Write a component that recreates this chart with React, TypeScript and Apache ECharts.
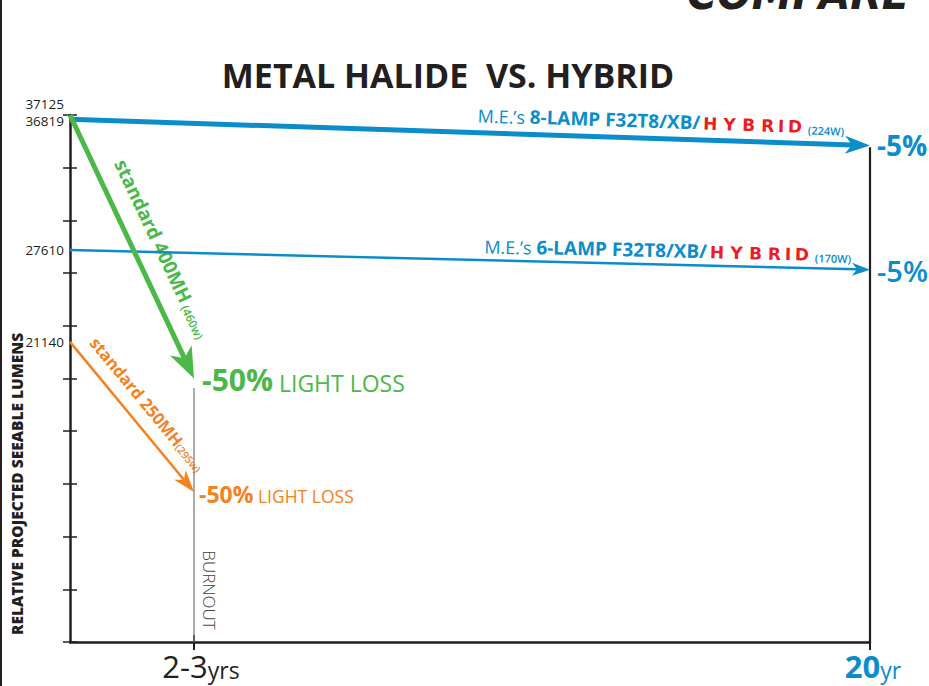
import React, { useEffect, useRef } from "react";
import * as echarts from "echarts";

// ---------------- data ----------------
const yMax = 37125;
const yInterval = 3712.5;
const xMax = 20;
const burnoutYears = 3.1;
const yTickLabels = [21140, 27610, 36819, 37125];
const xTickValues = [burnoutYears, xMax];
const xTickLabels = ["2-3yrs", "20yr"];

// [x0, y0, x1, y1]
const mh400 = [0, 37125, burnoutYears, 18562];
const mh250 = [0, 21140, burnoutYears, 10570];
const lamp8 = [0, 36819, xMax, 34978];
const lamp6 = [0, 27610, xMax, 26230];
const burnoutLine = [[burnoutYears, 0], [burnoutYears, 17900]];
const endLine = [[xMax, 0], [xMax, 34850]];

// ---------------- styles ----------------
const FONT = "'Open Sans', 'Noto Sans', 'DejaVu Sans', sans-serif";
const BLACK = "#231f20";
const BLUE = "#0b8ccb";
const GREEN = "#4bb848";
const ORANGE = "#f48221";
const RED = "#ec1c24";
const GRAY = "#808080";

function arrowSeries(name: string, values: number[], color: string, width: number, headW: number, headL: number) {
  return {
    type: "custom",
    name,
    xAxisIndex: 0,
    yAxisIndex: 0,
    silent: true,
    z: 5,
    data: [values],
    encode: { x: [0, 2], y: [1, 3] },
    renderItem: (_params: any, api: any) => {
      const p0 = api.coord([api.value(0), api.value(1)]);
      const p1 = api.coord([api.value(2), api.value(3)]);
      const dx = p1[0] - p0[0];
      const dy = p1[1] - p0[1];
      const L = Math.hypot(dx, dy);
      const ux = dx / L;
      const uy = dy / L;
      const nx = -uy;
      const ny = ux;
      const bx = p1[0] - ux * headL;
      const by = p1[1] - uy * headL;
      const mx = p1[0] - ux * headL * 0.72;
      const my = p1[1] - uy * headL * 0.72;
      return {
        type: "group",
        children: [
          { type: "line", shape: { x1: p0[0], y1: p0[1], x2: mx, y2: my }, style: { stroke: color, lineWidth: width } },
          {
            type: "polygon",
            shape: {
              points: [
                [p1[0], p1[1]],
                [bx + (nx * headW) / 2, by + (ny * headW) / 2],
                [mx, my],
                [bx - (nx * headW) / 2, by - (ny * headW) / 2],
              ],
            },
            style: { fill: color },
          },
        ],
      };
    },
  };
}

const HY = { fontFamily: "'DejaVu Sans', sans-serif", fontWeight: "bold", fontSize: 17, fill: RED, align: "center", verticalAlign: "bottom" };
const hybridRich = {
  h: { ...HY, width: 20 },
  hy: { ...HY, width: 19 },
  hi: { ...HY, width: 8 },
};
const hybridText = "{h|H}{hy|Y}{hy|B}{hy|R}{hi|I}{h|D}";

function lampLabel(count: string, watts: string) {
  return `{me|M.E.’s }{b|${count}-LAMP F32T8/XB/}${hybridText}{s| (${watts})}`;
}
const lampRich = {
  me: { fontFamily: FONT, fontSize: 18, fill: BLUE, verticalAlign: "bottom" },
  b: { fontFamily: FONT, fontSize: 19, fontWeight: "bold", fill: BLUE, verticalAlign: "bottom" },
  s: { fontFamily: FONT, fontSize: 11, fontWeight: 600, fill: BLUE, verticalAlign: "bottom" },
  ...hybridRich,
};

function splitLabel(s: string) {
  const m = s.match(/^([\d-]+)(\D+)$/);
  return m ? [m[1], m[2]] : [s, ""];
}

export default function App() {
  const ref = useRef<HTMLDivElement>(null);
  useEffect(() => {
    if (!ref.current) return;
    const chart = echarts.init(ref.current, null, { renderer: "svg" });
    const option: any = {
      animation: false,
      backgroundColor: "#ffffff",
      grid: { left: 70, right: 59, top: 115, bottom: 44 },
      xAxis: [
        {
          type: "value",
          min: 0,
          max: xMax,
          position: "bottom",
          axisLine: { show: true, lineStyle: { color: BLACK, width: 2.5 } },
          axisTick: { show: true, customValues: xTickValues, length: 8, lineStyle: { color: BLACK, width: 2 } },
          splitLine: { show: false },
          axisLabel: {
            show: true,
            customValues: xTickValues,
            margin: 8,
            formatter: (v: number) => {
              const idx = xTickValues.findIndex((t) => Math.abs(t - v) < 1e-6);
              if (idx < 0) return "";
              const [num, unit] = splitLabel(xTickLabels[idx]);
              return idx === xTickValues.length - 1 ? `{c|${num}}{d|${unit}}` : `{a|${num}}{b|${unit}}`;
            },
            rich: {
              a: { fontFamily: FONT, fontSize: 31, color: BLACK, verticalAlign: "bottom", padding: [0, 0, 0, 14] },
              b: { fontFamily: FONT, fontSize: 23, color: BLACK, verticalAlign: "bottom" },
              c: { fontFamily: FONT, fontSize: 31, fontWeight: "bold", color: BLUE, verticalAlign: "bottom", padding: [0, 0, 0, 6] },
              d: { fontFamily: FONT, fontSize: 23, color: BLUE, verticalAlign: "bottom" },
            },
          },
        },
        {
          type: "value",
          min: 0,
          max: xMax,
          position: "bottom",
          axisLine: { show: false },
          axisTick: { show: true, inside: true, customValues: xTickValues, length: 7, lineStyle: { color: BLACK, width: 2 } },
          axisLabel: { show: false },
          splitLine: { show: false },
        },
      ],
      yAxis: [
        {
          type: "value",
          min: 0,
          max: yMax,
          interval: yInterval,
          position: "left",
          axisLine: { show: true, lineStyle: { color: BLACK, width: 2.5 } },
          axisTick: { show: true, length: 7, lineStyle: { color: BLACK, width: 1.5 } },
          splitLine: { show: false },
          axisLabel: {
            show: true,
            customValues: yTickLabels,
            margin: 6,
            fontFamily: FONT,
            fontSize: 13.5,
            color: BLACK,
            formatter: (v: number) => {
              if (v === 37125) return `{up|${v}}`;
              if (v === 36819) return `{dn|${v}}`;
              return String(v);
            },
            rich: {
              up: { fontFamily: FONT, fontSize: 13.5, color: BLACK, padding: [0, 0, 22, 0] },
              dn: { fontFamily: FONT, fontSize: 13.5, color: BLACK, padding: [4, 0, 0, 0] },
            },
          },
        },
        {
          type: "value",
          min: 0,
          max: yMax,
          interval: yInterval,
          position: "left",
          axisLine: { show: false },
          axisTick: { show: true, inside: true, length: 7, lineStyle: { color: BLACK, width: 1.5 } },
          axisLabel: { show: false },
          splitLine: { show: false },
        },
      ],
      series: [
        {
          type: "line",
          name: "burnout",
          data: burnoutLine,
          symbol: "none",
          silent: true,
          lineStyle: { color: GRAY, width: 1.3 },
          z: 2,
        },
        {
          type: "line",
          name: "20yr",
          data: endLine,
          symbol: "none",
          silent: true,
          lineStyle: { color: BLACK, width: 2.2 },
          z: 2,
        },
        arrowSeries("8-lamp", lamp8, BLUE, 5, 18, 25),
        arrowSeries("6-lamp", lamp6, BLUE, 2.5, 13, 18),
        arrowSeries("400MH", mh400, GREEN, 5, 24, 31),
        arrowSeries("250MH", mh250, ORANGE, 2.5, 15, 22),
      ],
    };
    chart.setOption(option);

    const px = (p: number[]) => chart.convertToPixel({ gridIndex: 0 }, p) as number[];
    const along = (v: number[], t: number, perp: number) => {
      const p0 = px([v[0], v[1]]);
      const p1 = px([v[2], v[3]]);
      const dx = p1[0] - p0[0];
      const dy = p1[1] - p0[1];
      const L = Math.hypot(dx, dy);
      const ux = dx / L;
      const uy = dy / L;
      return { x: p0[0] + dx * t + uy * perp, y: p0[1] + dy * t - ux * perp, rotation: -Math.atan2(dy, dx) };
    };
    const end = (v: number[]) => px([v[2], v[3]]);

    const g400 = along(mh400, 0.55, 26);
    const g250 = along(mh250, 0.5, 20);
    const g8 = along(lamp8, 0.967, 8);
    const g6 = along(lamp6, 0.976, 5);
    const e8 = end(lamp8);
    const e6 = end(lamp6);
    const e400 = end(mh400);
    const e250 = end(mh250);
    const b0 = px([burnoutYears, 0]);

    const graphic: any[] = [
      { type: "rect", shape: { x: 0, y: 0, width: 2, height: 686 }, style: { fill: BLACK }, silent: true },
      {
        type: "text",
        x: 670,
        y: -6,
        scaleX: 0.93,
        silent: true,
        style: {
          text: "-COMPARE-",
          fontFamily: "'DejaVu Sans', sans-serif",
          fontWeight: "bold",
          fontStyle: "italic",
          fontSize: 44,
          fill: BLACK,
          align: "left",
          verticalAlign: "middle",
        },
      },
      {
        type: "text",
        x: 448,
        y: 75,
        silent: true,
        style: {
          text: "METAL HALIDE  VS. HYBRID",
          fontFamily: FONT,
          fontWeight: "bold",
          fontSize: 34,
          fill: BLACK,
          align: "center",
          verticalAlign: "middle",
        },
      },
      {
        type: "text",
        x: 17,
        y: 484,
        rotation: Math.PI / 2,
        silent: true,
        style: {
          text: "RELATIVE PROJECTED SEEABLE LUMENS",
          fontFamily: FONT,
          fontWeight: 800,
          fontSize: 15.5,
          fill: BLACK,
          align: "center",
          verticalAlign: "middle",
        },
      },
      {
        type: "text",
        ...g400,
        silent: true,
        style: {
          text: "{a|standard 400MH}{b| (460w)}",
          align: "center",
          verticalAlign: "middle",
          rich: {
            a: { fontFamily: FONT, fontWeight: "bold", fontSize: 19, fill: GREEN, verticalAlign: "bottom" },
            b: { fontFamily: FONT, fontWeight: 600, fontSize: 11.5, fill: GREEN, verticalAlign: "bottom" },
          },
        },
      },
      {
        type: "text",
        ...g250,
        silent: true,
        style: {
          text: "{a|standard 250MH}{b|(295w)}",
          align: "center",
          verticalAlign: "middle",
          rich: {
            a: { fontFamily: FONT, fontWeight: "bold", fontSize: 16.5, fill: ORANGE, verticalAlign: "bottom" },
            b: { fontFamily: FONT, fontWeight: 600, fontSize: 10.5, fill: ORANGE, verticalAlign: "bottom" },
          },
        },
      },
      {
        type: "text",
        ...g8,
        silent: true,
        style: { text: lampLabel("8", "224W"), align: "right", verticalAlign: "bottom", rich: lampRich },
      },
      {
        type: "text",
        ...g6,
        silent: true,
        style: { text: lampLabel("6", "170W"), align: "right", verticalAlign: "bottom", rich: lampRich },
      },
      {
        type: "text",
        x: e8[0] + 7,
        y: e8[1],
        silent: true,
        style: { text: "-5%", fontFamily: FONT, fontWeight: "bold", fontSize: 28, fill: BLUE, align: "left", verticalAlign: "middle" },
      },
      {
        type: "text",
        x: e6[0] + 7,
        y: e6[1] + 1,
        silent: true,
        style: { text: "-5%", fontFamily: FONT, fontWeight: 600, fontSize: 29, fill: BLUE, align: "left", verticalAlign: "middle" },
      },
      {
        type: "text",
        x: e400[0] + 8,
        y: e400[1] + 1,
        silent: true,
        style: {
          text: "{a|-50%}{b| LIGHT LOSS}",
          align: "left",
          verticalAlign: "middle",
          rich: {
            a: { fontFamily: FONT, fontWeight: "bold", fontSize: 30, fill: GREEN, verticalAlign: "bottom" },
            b: { fontFamily: FONT, fontSize: 23, fill: GREEN, verticalAlign: "bottom" },
          },
        },
      },
      {
        type: "text",
        x: e250[0] + 5,
        y: e250[1] + 2,
        silent: true,
        style: {
          text: "{a|-50%}{b| LIGHT LOSS}",
          align: "left",
          verticalAlign: "middle",
          rich: {
            a: { fontFamily: FONT, fontWeight: "bold", fontSize: 23, fill: ORANGE, verticalAlign: "bottom" },
            b: { fontFamily: FONT, fontSize: 17.5, fill: ORANGE, verticalAlign: "bottom" },
          },
        },
      },
      {
        type: "text",
        x: b0[0] + 15,
        y: b0[1] - 52,
        rotation: -Math.PI / 2,
        silent: true,
        style: {
          text: "BURNOUT",
          fontFamily: FONT,
          fontWeight: 300,
          fontSize: 17,
          fill: "#444444",
          align: "center",
          verticalAlign: "middle",
        },
      },
    ];
    chart.setOption({ graphic });
    return () => chart.dispose();
  }, []);
  return (
    <div
      ref={ref}
      style={{ position: "absolute", left: 0, top: 0, width: 929, height: 686, background: "#ffffff" }}
    />
  );
}
